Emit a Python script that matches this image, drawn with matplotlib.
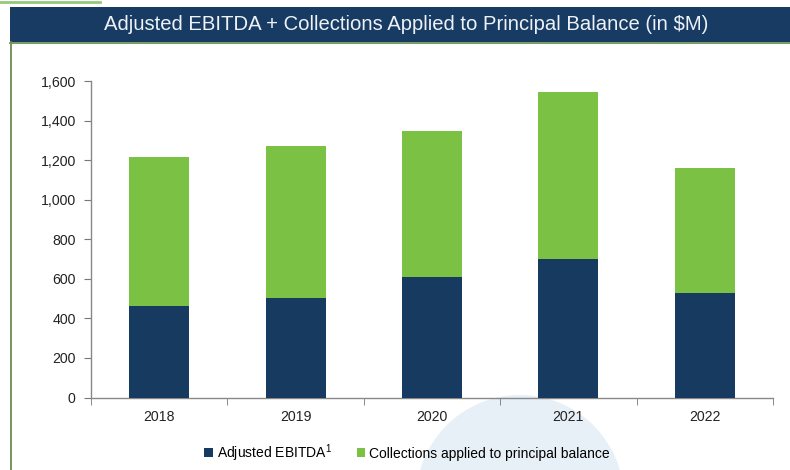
import matplotlib

matplotlib.use("Agg")
import matplotlib.pyplot as plt
from matplotlib.patches import Ellipse, Rectangle
from matplotlib.lines import Line2D

years = ["2018", "2019", "2020", "2021", "2022"]
ebitda = [463, 502, 608, 701, 527]
collections = [756, 769, 742, 844, 636]
yticks = [0, 200, 400, 600, 800, 1000, 1200, 1400, 1600]

NAVY = "#173a61"
GREEN = "#7bc143"
TITLE_BG = "#173b63"

plt.rcParams.update({
    "font.family": ["Liberation Sans", "DejaVu Sans"],
    "mathtext.fontset": "custom",
    "mathtext.rm": "Liberation Sans",
    "mathtext.it": "Liberation Sans",
})

fig = plt.figure(figsize=(7.9, 4.7), dpi=100)
W, H = 790, 470

# decorative background circle (pixel radius ~104)
fig.patches.append(Ellipse((520 / W, 1 - 499 / H), 208 / W, 208 / H, transform=fig.transFigure,
                           facecolor="#e7eff7", edgecolor="none", zorder=-5))
# header decorations
fig.add_artist(Line2D([0, 100 / W], [1 - 1.5 / H] * 2, color="#93c97a", lw=2))
fig.patches.append(Rectangle((10 / W, 1 - 42 / H), 780 / W, 35 / H, transform=fig.transFigure,
                             facecolor=TITLE_BG, edgecolor="none", zorder=1))
fig.add_artist(Line2D([10 / W, 1], [1 - 42.5 / H] * 2, color="#5f8a45", lw=1.2))
fig.add_artist(Line2D([11 / W, 11 / W], [0, 1 - 42 / H], color="#6f8a55", lw=1.3))
fig.text(406 / W, 1 - 25 / H, "Adjusted EBITDA + Collections Applied to Principal Balance (in $M)",
         ha="center", va="center", color="#eef2f7", fontsize=14.6, zorder=2)

ax = fig.add_axes([91 / W, 1 - 397.5 / H, 682 / W, 316.2 / H])
ax.set_zorder(2)
ax.patch.set_alpha(0)
x = range(len(years))
b1 = ax.bar(x, ebitda, width=0.44, color=NAVY, label="Adjusted EBITDA$^{1}$", zorder=3)
b2 = ax.bar(x, collections, width=0.44, bottom=ebitda, color=GREEN,
            label="Collections applied to principal balance", zorder=3)

ax.set_xlim(-0.5, len(years) - 0.5)
ax.set_ylim(0, 1600)
ax.set_yticks(yticks)
ax.set_yticklabels([f"{v:,}" for v in yticks], fontsize=10.2, color="#222222")
ax.set_xticks(list(x))
ax.set_xticklabels(years, fontsize=10.2, color="#222222")
ax.set_xticks([i - 0.5 for i in range(len(years) + 1)], minor=True)
ax.tick_params(axis="x", which="major", length=0, pad=9)
ax.tick_params(axis="x", which="minor", length=5, color="#777777", direction="out")
ax.tick_params(axis="y", length=5, color="#777777", pad=6)
for s in ("top", "right"):
    ax.spines[s].set_visible(False)
for s in ("left", "bottom"):
    ax.spines[s].set_color("#888888")
    ax.spines[s].set_linewidth(1.0)

leg = fig.legend(handles=[b1, b2], loc="center", bbox_to_anchor=(407 / W, 1 - 453 / H), ncol=2,
                 frameon=False, fontsize=10, handlelength=0.6, handleheight=0.6,
                 handletextpad=0.3, columnspacing=1.8)
leg.set_zorder(3)

fig.savefig("out.png", dpi=100)
